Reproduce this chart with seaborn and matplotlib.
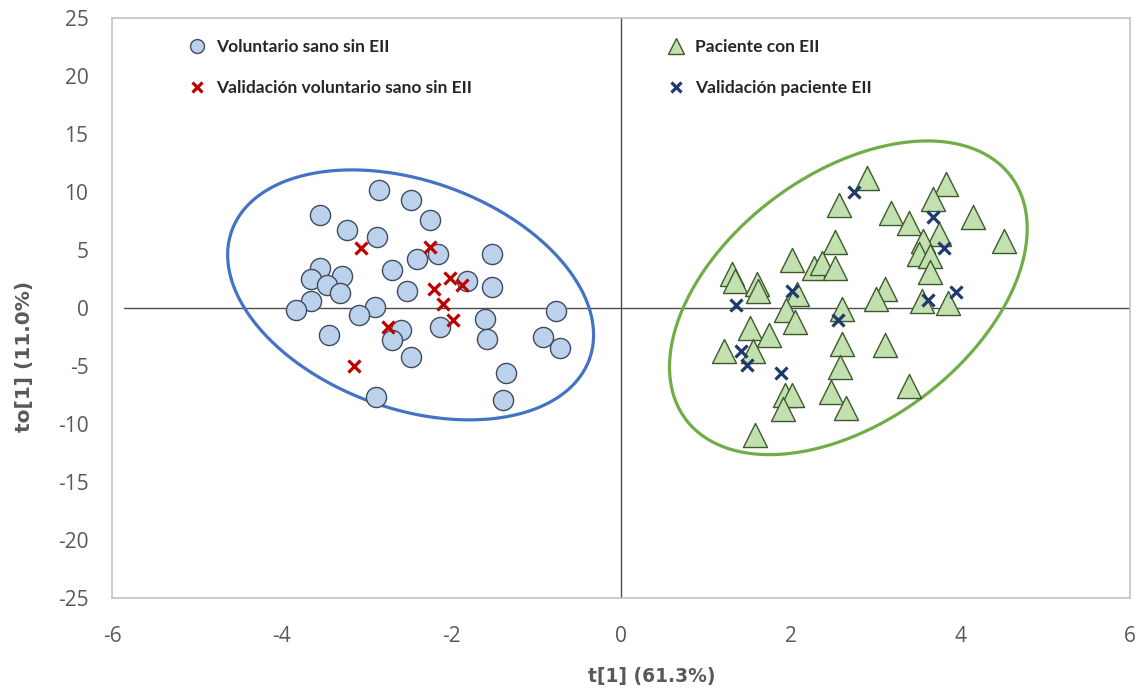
import numpy as np
import pandas as pd
import matplotlib
matplotlib.use("Agg")
import matplotlib.pyplot as plt
from matplotlib import font_manager
from matplotlib.lines import Line2D
import seaborn as sns

# Scores (t[1], to[1])
sano_t = [-2.85, -2.48, -3.55, -2.25, -3.23, -2.88, -1.52, -2.41, -2.16, -2.70,
          -3.55, -3.29, -3.66, -3.47, -3.31, -2.52, -1.82, -1.52, -3.66, -3.83,
          -2.90, -3.09, -1.60, -0.77, -3.44, -2.59, -2.70, -2.13, -1.58, -0.92,
          -0.72, -2.47, -1.35, -2.89, -1.39]
sano_to = [10.13, 9.35, 8.01, 7.58, 6.71, 6.16, 4.69, 4.25, 4.63, 3.27,
           3.47, 2.75, 2.52, 2.02, 1.30, 1.50, 2.37, 1.82, 0.58, -0.15,
           0.06, -0.63, -0.95, -0.29, -2.32, -1.88, -2.75, -1.68, -2.66, -2.46,
           -3.47, -4.19, -5.58, -7.66, -7.96]

val_sano_t = [-3.06, -2.25, -2.02, -2.21, -1.87, -2.10, -1.98, -2.75, -3.15]
val_sano_to = [5.15, 5.30, 2.60, 1.68, 1.97, 0.35, -1.01, -1.68, -4.97]

eii_t = [2.90, 3.83, 3.68, 2.57, 3.18, 3.39, 4.15, 3.75, 4.51, 2.52,
         3.56, 3.51, 3.64, 3.64, 2.01, 2.27, 2.37, 2.52, 1.31, 1.34,
         1.60, 1.62, 2.07, 3.11, 3.00, 3.55, 3.86, 2.60, 1.95, 2.05,
         1.52, 1.75, 1.21, 1.56, 2.60, 3.11, 2.58, 3.39, 1.93, 2.01,
         2.48, 1.91, 2.65, 1.58]
eii_to = [11.22, 10.65, 9.40, 8.88, 8.16, 7.32, 7.81, 6.36, 5.79, 5.70,
          5.79, 4.69, 4.49, 3.13, 4.11, 3.47, 3.91, 3.41, 2.95, 2.34,
          2.08, 1.50, 1.22, 1.65, 0.81, 0.63, 0.41, -0.06, -0.15, -1.24,
          -1.74, -2.37, -3.71, -3.71, -3.13, -3.19, -5.06, -6.74, -7.47, -7.53,
          -7.23, -8.74, -8.62, -10.94]

val_eii_t = [2.75, 3.68, 3.81, 2.01, 3.95, 3.62, 1.36, 2.56, 1.42, 1.49, 1.89]
val_eii_to = [9.98, 7.87, 5.15, 1.45, 1.39, 0.72, 0.29, -1.07, -3.71, -4.92, -5.64]

labels = ["Voluntario sano sin EII", "Validación voluntario sano sin EII",
          "Paciente con EII", "Validación paciente EII"]

# group ellipses: centre (data), semi-axes (pixels), tilt (degrees on screen)
ell_center = [(-2.48, 1.13), (2.68, 0.88)]
ell_axes = [(190, 114), (203, 124)]
ell_angle = [-19.7, 36.7]
ell_color = ["#4472c4", "#70ad47"]


def pick_font(names):
    # first family that is really installed
    for n in names:
        try:
            font_manager.findfont(n, fallback_to_default=False)
            return n
        except Exception:
            continue
    return "DejaVu Sans"


sns.set_theme(style="white")
plt.rcParams["font.family"] = ["Open Sans", "DejaVu Sans"]
plt.rcParams["axes.unicode_minus"] = False
narrow = pick_font(["Liberation Sans Narrow", "Lato"])

W, H = 1139, 691
fig = plt.figure(figsize=(W / 100, H / 100), dpi=100)
ax = fig.add_axes([112 / W, 1 - 598 / H, 1018 / W, 580 / H])

ax.set_xlim(-6, 6)
ax.set_ylim(-25, 25)
ax.set_xticks(range(-6, 7, 2))
ax.set_yticks(range(-25, 26, 5))

ax.axhline(0, xmin=0.012, color="#4d4d4d", lw=1.0, zorder=1)
ax.axvline(0, color="#4d4d4d", lw=1.0, zorder=1)

df_sano = pd.DataFrame({"t": sano_t, "to": sano_to})
df_vs = pd.DataFrame({"t": val_sano_t, "to": val_sano_to})
df_eii = pd.DataFrame({"t": eii_t, "to": eii_to})
df_ve = pd.DataFrame({"t": val_eii_t, "to": val_eii_to})

sns.scatterplot(data=df_sano, x="t", y="to", ax=ax, marker="o", s=210,
                color="#bcd2ec", edgecolor="#3f4b5e", linewidth=1.0, zorder=3)
sns.scatterplot(data=df_eii, x="t", y="to", ax=ax, marker="^", s=300,
                color="#c3e0b0", edgecolor="#3e5a2c", linewidth=1.0, zorder=3)
sns.scatterplot(data=df_vs, x="t", y="to", ax=ax, marker="x", s=75,
                color="#c00000", linewidth=2.3, zorder=4)
sns.scatterplot(data=df_ve, x="t", y="to", ax=ax, marker="x", s=75,
                color="#1f3a6e", linewidth=2.3, zorder=4)

# ellipses drawn in screen proportions, converted back to data units
sx = 1018 / 12.0
sy = 580 / 50.0
tt = np.linspace(0, 2 * np.pi, 400)
for (cx, cy), (a, b), ang, col in zip(ell_center, ell_axes, ell_angle, ell_color):
    th = np.deg2rad(ang)
    ex = cx + (a * np.cos(tt) * np.cos(th) - b * np.sin(tt) * np.sin(th)) / sx
    ey = cy + (a * np.cos(tt) * np.sin(th) + b * np.sin(tt) * np.cos(th)) / sy
    ax.plot(ex, ey, color=col, lw=2.3, zorder=2)

for sp in ax.spines.values():
    sp.set_color("#bfbfbf")
    sp.set_linewidth(1.1)

ax.tick_params(axis="both", length=0, labelsize=15, labelcolor="#595959")
ax.tick_params(axis="x", pad=20)
ax.tick_params(axis="y", pad=17)

ax.set_xlabel("t[1] (61.3%)", fontsize=13.5, fontweight="bold", color="#595959",
              family="DejaVu Sans")
ax.set_ylabel("to[1] (11.0%)", fontsize=14.5, fontweight="bold", color="#595959",
              family="DejaVu Sans")
ax.xaxis.set_label_coords((652 - 112) / 1018, (598 - 667) / 580)
ax.yaxis.set_label_coords((34 - 112) / 1018, (598 - 356) / 580)

h_sano = Line2D([], [], ls="", marker="o", ms=10, mfc="#bcd2ec", mec="#3f4b5e", mew=1.0)
h_vs = Line2D([], [], ls="", marker="x", ms=7, mec="#c00000", mew=2.3)
h_eii = Line2D([], [], ls="", marker="^", ms=11, mfc="#c3e0b0", mec="#3e5a2c", mew=1.0)
h_ve = Line2D([], [], ls="", marker="x", ms=7, mec="#1f3a6e", mew=2.3)

leg_kw = dict(frameon=False, loc="upper left", borderpad=0, borderaxespad=0,
              handlelength=1.0, handletextpad=0.6, labelspacing=1.4,
              prop={"family": narrow, "weight": "bold", "size": 12.5})
leg1 = ax.legend([h_sano, h_vs], labels[:2], bbox_to_anchor=(0.075, 0.963), **leg_kw)
ax.add_artist(leg1)
ax.legend([h_eii, h_ve], labels[2:], bbox_to_anchor=(0.5455, 0.963), **leg_kw)

fig.savefig("out.png", dpi=100, facecolor="white")
